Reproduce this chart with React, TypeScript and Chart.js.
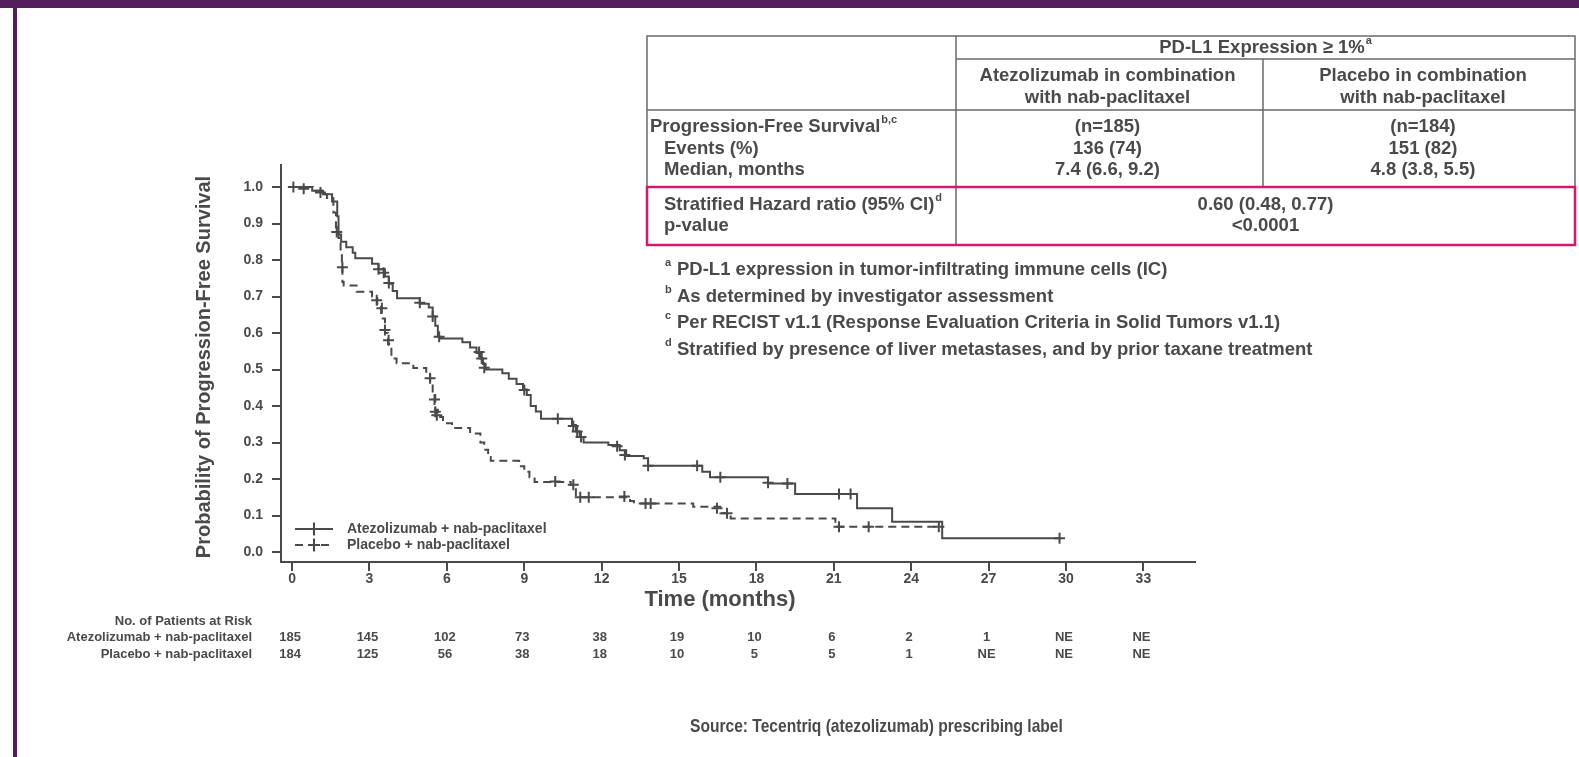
import React, { useEffect, useRef } from "react";
import { Chart, registerables } from "chart.js";

Chart.register(...registerables);

// ---------- data ----------
const xTicks = [0, 3, 6, 9, 12, 15, 18, 21, 24, 27, 30, 33];
const yTicks = [0, 0.1, 0.2, 0.3, 0.4, 0.5, 0.6, 0.7, 0.8, 0.9, 1.0];

const seriesLabels = ["Atezolizumab + nab-paclitaxel", "Placebo + nab-paclitaxel"];

const atezoTimes = [0, 0.78, 1.2, 1.55, 1.75, 1.8, 1.9, 2.1, 2.35, 2.45, 3.1, 3.35, 3.6, 3.75, 3.9, 4.07, 4.95, 5.3, 5.45, 5.55, 5.65, 5.75, 6.6, 6.9, 7.15, 7.3, 7.4, 7.5, 8.15, 8.4, 8.7, 8.95, 9.1, 9.25, 9.45, 9.65, 10.85, 11.0, 11.15, 11.3, 12.26, 12.7, 12.95, 13.63, 13.8, 15.9, 16.2, 18.45, 19.5, 21.9, 23.26, 25.2, 29.75];
const atezoSurv = [1.0, 0.99, 0.98, 0.96, 0.92, 0.87, 0.85, 0.835, 0.82, 0.805, 0.79, 0.775, 0.755, 0.735, 0.715, 0.695, 0.68, 0.67, 0.645, 0.62, 0.59, 0.585, 0.575, 0.56, 0.545, 0.53, 0.515, 0.5, 0.49, 0.475, 0.46, 0.445, 0.43, 0.4, 0.385, 0.365, 0.348, 0.33, 0.315, 0.3, 0.293, 0.279, 0.263, 0.257, 0.236, 0.22, 0.205, 0.188, 0.159, 0.12, 0.083, 0.0375, 0.0375];

const placeboTimes = [0, 0.8, 1.2, 1.35, 1.6, 1.7, 1.8, 1.88, 1.93, 1.95, 2.0, 2.5, 3.1, 3.3, 3.45, 3.6, 3.72, 3.85, 4.05, 4.7, 5.2, 5.35, 5.45, 5.55, 5.65, 5.85, 6.2, 6.9, 7.3, 7.45, 7.6, 7.7, 8.8, 9.0, 9.2, 9.4, 10.8, 11.0, 13.1, 13.25, 15.55, 16.6, 17.0, 21.06, 25.07];
const placeboSurv = [1.0, 0.99, 0.98, 0.97, 0.93, 0.89, 0.86, 0.82, 0.78, 0.74, 0.73, 0.713, 0.7, 0.68, 0.64, 0.6, 0.57, 0.53, 0.517, 0.504, 0.49, 0.46, 0.43, 0.39, 0.37, 0.353, 0.34, 0.325, 0.3, 0.28, 0.26, 0.25, 0.235, 0.22, 0.205, 0.192, 0.184, 0.15, 0.14, 0.133, 0.124, 0.106, 0.092, 0.069, 0.069];

const atezoCensorTimes = [0.05, 0.45, 1.1, 3.35, 3.55, 3.75, 4.95, 5.45, 5.7, 7.25, 7.35, 7.45, 9.0, 10.3, 10.9, 11.05, 11.2, 12.6, 12.9, 13.8, 15.7, 16.6, 18.45, 19.2, 21.2, 21.65, 29.75];
const atezoCensorSurv = [1.0, 0.995, 0.985, 0.775, 0.765, 0.737, 0.683, 0.645, 0.59, 0.548, 0.53, 0.505, 0.444, 0.365, 0.345, 0.33, 0.315, 0.29, 0.266, 0.236, 0.236, 0.205, 0.19, 0.188, 0.159, 0.159, 0.0375];

const placeboCensorTimes = [1.73, 1.95, 3.28, 3.48, 3.6, 3.74, 5.35, 5.52, 5.55, 5.61, 10.2, 10.9, 11.17, 11.5, 12.88, 13.7, 13.9, 16.47, 16.86, 21.2, 22.35, 25.07];
const placeboCensorSurv = [0.877, 0.78, 0.69, 0.668, 0.608, 0.58, 0.476, 0.418, 0.384, 0.375, 0.193, 0.184, 0.15, 0.15, 0.152, 0.133, 0.133, 0.12, 0.106, 0.069, 0.069, 0.069];

const riskTitle = "No. of Patients at Risk";
const riskAtezo = ["185", "145", "102", "73", "38", "19", "10", "6", "2", "1", "NE", "NE"];
const riskPlacebo = ["184", "125", "56", "38", "18", "10", "5", "5", "1", "NE", "NE", "NE"];

const xTitle = "Time (months)";
const yTitle = "Probability of Progression-Free Survival";

const tableHeader = "PD-L1 Expression \u2265 1%";
const tableHeaderSup = "a";
const armHeaders = [
  ["Atezolizumab in combination", "with nab-paclitaxel"],
  ["Placebo in combination", "with nab-paclitaxel"],
];
const rowLabels = ["Progression-Free Survival", "Events (%)", "Median, months"];
const rowLabelSup = "b,c";
const atezoStats = ["(n=185)", "136 (74)", "7.4 (6.6, 9.2)"];
const placeboStats = ["(n=184)", "151 (82)", "4.8 (3.8, 5.5)"];
const hrLabels = ["Stratified Hazard ratio (95% CI)", "p-value"];
const hrLabelSup = "d";
const hrValues = ["0.60 (0.48, 0.77)", "<0.0001"];

const footnoteMarks = ["a", "b", "c", "d"];
const footnoteTexts = [
  "PD-L1 expression in tumor-infiltrating immune cells (IC)",
  "As determined by investigator assessment",
  "Per RECIST v1.1 (Response Evaluation Criteria in Solid Tumors v1.1)",
  "Stratified by presence of liver metastases, and by prior taxane treatment",
];
const sourceText = "Source: Tecentriq (atezolizumab) prescribing label";

// ---------- styles ----------
const FONT = '"Liberation Sans", Arial, Helvetica, sans-serif';
const INK = "#4a4a4a";
const RULE = "#6a6a6a";
const PINK = "#d31a6f";
const PURPLE = "#531f5b";
const DASH = [8, 5];

const W = 1579;
const H = 757;

function pts(xs: number[], ys: number[]) {
  return xs.map((x, i) => ({ x, y: ys[i] }));
}

function textWithSup(
  ctx: CanvasRenderingContext2D,
  text: string,
  sup: string,
  x: number,
  y: number,
  size: number,
  align: "left" | "center"
) {
  ctx.font = `bold ${size}px ${FONT}`;
  const w = ctx.measureText(text).width;
  const supSize = Math.round(size * 0.6);
  ctx.font = `bold ${supSize}px ${FONT}`;
  const sw = sup ? ctx.measureText(sup).width + 1 : 0;
  const start = align === "center" ? x - (w + sw) / 2 : x;
  ctx.textAlign = "left";
  ctx.textBaseline = "middle";
  ctx.font = `bold ${size}px ${FONT}`;
  ctx.fillText(text, start, y);
  if (sup) {
    ctx.font = `bold ${supSize}px ${FONT}`;
    ctx.fillText(sup, start + w + 1, y - size * 0.38);
  }
}

const overlayPlugin = {
  id: "overlay",
  afterDraw(chart: any) {
    const ctx: CanvasRenderingContext2D = chart.ctx;
    const xs = chart.scales.x;
    const area = chart.chartArea;
    ctx.save();
    ctx.fillStyle = INK;
    ctx.strokeStyle = INK;

    // axis titles
    ctx.font = `bold 22px ${FONT}`;
    ctx.textAlign = "center";
    ctx.textBaseline = "middle";
    ctx.fillText(xTitle, 720, area.bottom + 38);
    ctx.save();
    ctx.translate(204, 367);
    ctx.rotate(-Math.PI / 2);
    ctx.font = `bold 20px ${FONT}`;
    ctx.fillText(yTitle, 0, 0);
    ctx.restore();

    // legend
    const lx0 = area.left + 14;
    const lx1 = area.left + 52;
    const lxc = (lx0 + lx1) / 2;
    seriesLabels.forEach((lab, i) => {
      const y = area.bottom - 33 + i * 16;
      ctx.lineWidth = 2;
      ctx.setLineDash(i === 1 ? DASH : []);
      ctx.beginPath();
      ctx.moveTo(lx0, y);
      ctx.lineTo(lx1, y);
      ctx.stroke();
      ctx.setLineDash([]);
      ctx.beginPath();
      ctx.moveTo(lxc, y - 6.5);
      ctx.lineTo(lxc, y + 6.5);
      ctx.moveTo(lxc - 6, y);
      ctx.lineTo(lxc + 6, y);
      ctx.stroke();
      ctx.font = `bold 14px ${FONT}`;
      ctx.textAlign = "left";
      ctx.textBaseline = "middle";
      ctx.fillText(lab, area.left + 66, y);
    });

    // risk table
    ctx.font = `bold 13px ${FONT}`;
    ctx.textAlign = "right";
    ctx.textBaseline = "middle";
    ctx.fillText(riskTitle, 252, 621);
    ctx.fillText(seriesLabels[0], 252, 637);
    ctx.fillText(seriesLabels[1], 252, 654);
    ctx.textAlign = "center";
    xTicks.forEach((t, i) => {
      const px = xs.getPixelForValue(t) - 2;
      ctx.fillText(riskAtezo[i], px, 637);
      ctx.fillText(riskPlacebo[i], px, 654);
    });

    // summary table
    const L = 647, R = 1575, T = 36, D1 = 956, D2 = 1263;
    const hHead = 59, hArms = 110, pTop = 187, pBot = 245;
    ctx.strokeStyle = RULE;
    ctx.lineWidth = 1.5;
    ctx.beginPath();
    ctx.moveTo(L, pTop); ctx.lineTo(L, T); ctx.lineTo(R, T); ctx.lineTo(R, pTop);
    ctx.moveTo(D1, hHead); ctx.lineTo(R, hHead);
    ctx.moveTo(L, hArms); ctx.lineTo(R, hArms);
    ctx.moveTo(D1, T); ctx.lineTo(D1, pBot);
    ctx.moveTo(D2, hHead); ctx.lineTo(D2, pTop);
    ctx.stroke();
    ctx.strokeStyle = PINK;
    ctx.lineWidth = 2.5;
    ctx.strokeRect(L, pTop, R - L, pBot - pTop);

    ctx.fillStyle = INK;
    const fs = 18.5;
    const c1 = (D1 + D2) / 2 - 2;
    const c2 = (D2 + R) / 2 + 4;
    textWithSup(ctx, tableHeader, tableHeaderSup, (D1 + R) / 2, 47.5, fs, "center");
    ctx.font = `bold ${fs}px ${FONT}`;
    ctx.textAlign = "center";
    ctx.textBaseline = "middle";
    [c1, c2].forEach((cx, k) => {
      ctx.fillText(armHeaders[k][0], cx, 76);
      ctx.fillText(armHeaders[k][1], cx, 98);
    });
    const rowY = [127, 149, 170];
    rowY.forEach((y, i) => {
      if (i === 0) textWithSup(ctx, rowLabels[0], rowLabelSup, 650, y, fs, "left");
      else {
        ctx.font = `bold ${fs}px ${FONT}`;
        ctx.textAlign = "left";
        ctx.fillText(rowLabels[i], 664, y);
      }
      ctx.font = `bold ${fs}px ${FONT}`;
      ctx.textAlign = "center";
      ctx.fillText(atezoStats[i], c1, y);
      ctx.fillText(placeboStats[i], c2, y);
    });
    const hrY = [205, 226];
    textWithSup(ctx, hrLabels[0], hrLabelSup, 664, hrY[0], fs, "left");
    ctx.font = `bold ${fs}px ${FONT}`;
    ctx.textAlign = "left";
    ctx.fillText(hrLabels[1], 664, hrY[1]);
    ctx.textAlign = "center";
    hrValues.forEach((v, i) => ctx.fillText(v, (D1 + R) / 2, hrY[i]));

    // footnotes
    const fnY = [270, 297, 323, 350];
    footnoteTexts.forEach((t, i) => {
      ctx.textAlign = "left";
      ctx.textBaseline = "middle";
      ctx.font = `bold 11px ${FONT}`;
      ctx.fillText(footnoteMarks[i], 665, fnY[i] - 7);
      ctx.font = `bold 18.5px ${FONT}`;
      ctx.fillText(t, 677, fnY[i]);
    });

    // source
    ctx.save();
    ctx.translate(690, 727);
    ctx.scale(0.82, 1);
    ctx.font = `bold 19px ${FONT}`;
    ctx.textAlign = "left";
    ctx.textBaseline = "middle";
    ctx.fillText(sourceText, 0, 0);
    ctx.restore();

    ctx.restore();
  },
};

export default function App() {
  const ref = useRef<HTMLCanvasElement | null>(null);

  useEffect(() => {
    if (!ref.current) return;
    const lineBase = {
      borderColor: INK,
      borderWidth: 2,
      pointRadius: 0,
      fill: false,
      stepped: true as const,
      tension: 0,
    };
    const censorBase = {
      showLine: false,
      pointStyle: "cross" as const,
      pointRadius: 5.5,
      pointBorderWidth: 2,
      pointBorderColor: INK,
      pointBackgroundColor: INK,
      borderColor: INK,
    };
    const chart = new Chart(ref.current, {
      type: "line",
      data: {
        datasets: [
          { ...lineBase, label: seriesLabels[0], data: pts(atezoTimes, atezoSurv) },
          { ...lineBase, label: seriesLabels[1], data: pts(placeboTimes, placeboSurv), borderDash: DASH },
          { ...censorBase, label: "c1", data: pts(atezoCensorTimes, atezoCensorSurv) },
          { ...censorBase, label: "c2", data: pts(placeboCensorTimes, placeboCensorSurv) },
        ] as any,
      },
      options: {
        responsive: false,
        animation: false,
        devicePixelRatio: 1,
        layout: { padding: { left: 201, right: 384, top: 165, bottom: 155 } },
        plugins: { legend: { display: false }, tooltip: { enabled: false } },
        scales: {
          x: {
            type: "linear",
            min: -0.43,
            max: 35.0,
            afterBuildTicks: (s: any) => {
              s.ticks = xTicks.map((v) => ({ value: v }));
            },
            afterFit: (s: any) => {
              s.height = 40;
            },
            ticks: {
              autoSkip: false,
              maxRotation: 0,
              padding: 0,
              color: INK,
              font: { family: FONT, size: 14, weight: "bold" },
            },
            grid: { drawOnChartArea: false, drawTicks: true, tickLength: 9, color: INK, lineWidth: 2 },
            border: { display: true, color: INK, width: 2 },
          },
          y: {
            type: "linear",
            min: -0.0274,
            max: 1.0603,
            afterBuildTicks: (s: any) => {
              s.ticks = yTicks.map((v) => ({ value: v }));
            },
            afterFit: (s: any) => {
              s.width = 80;
            },
            ticks: {
              autoSkip: false,
              padding: 9,
              color: INK,
              font: { family: FONT, size: 14, weight: "bold" },
              callback: (v: any) => Number(v).toFixed(1),
            },
            grid: { drawOnChartArea: false, drawTicks: true, tickLength: 9, color: INK, lineWidth: 2 },
            border: { display: true, color: INK, width: 2 },
          },
        },
      } as any,
      plugins: [overlayPlugin],
    });
    return () => chart.destroy();
  }, []);

  return (
    <div style={{ position: "absolute", left: 0, top: 0, width: W, height: H, background: "#ffffff", overflow: "hidden" }}>
      <canvas ref={ref} width={W} height={H} style={{ display: "block", width: W, height: H }} />
      <div style={{ position: "absolute", left: 0, top: 0, width: W, height: 8, background: PURPLE }} />
      <div style={{ position: "absolute", left: 13, top: 8, width: 4, height: H - 8, background: PURPLE }} />
    </div>
  );
}
